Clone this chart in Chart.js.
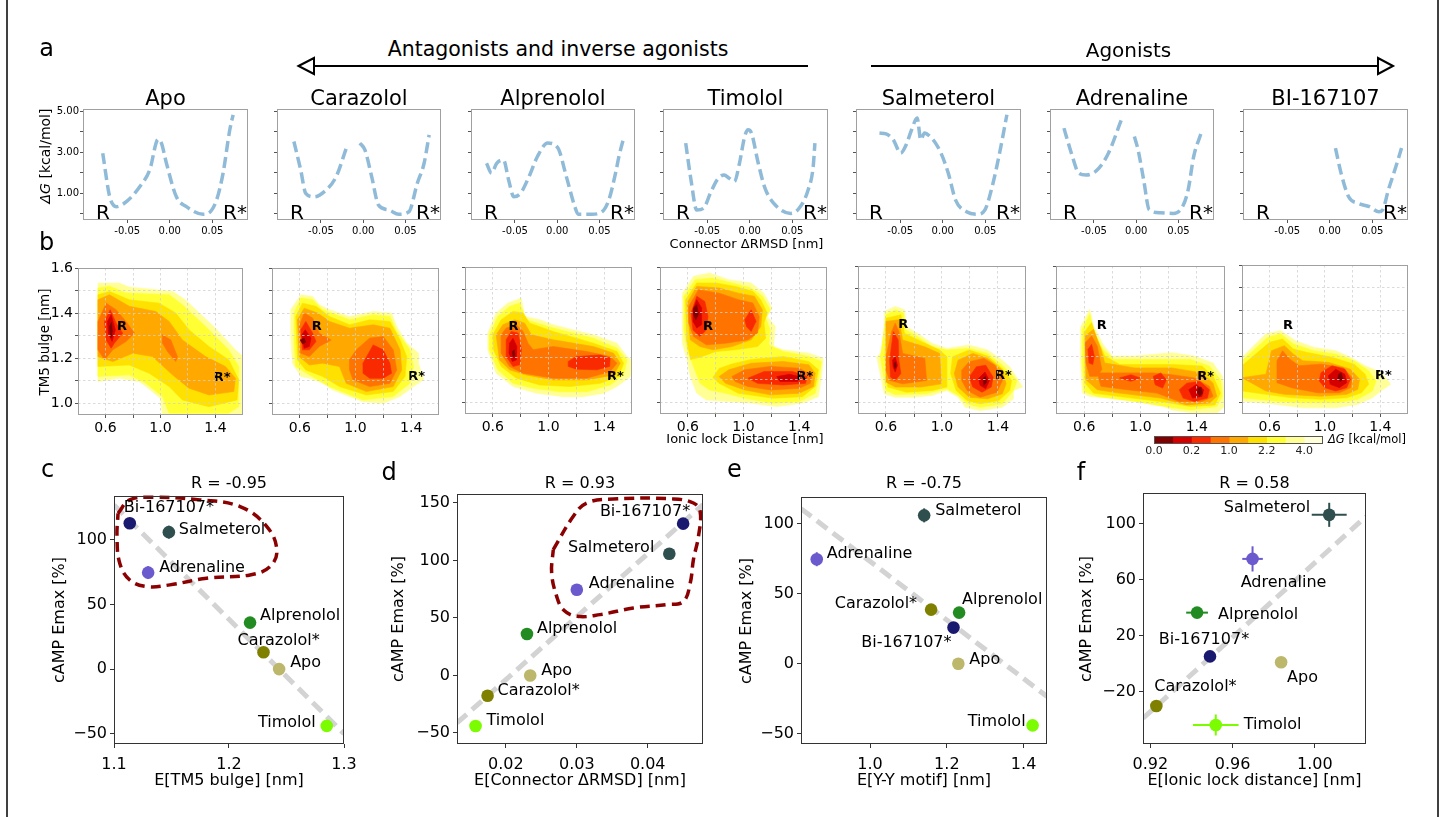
<!DOCTYPE html>
<html><head><meta charset="utf-8">
<script src="https://cdn.jsdelivr.net/npm/chart.js@4.4.1/dist/chart.umd.min.js"></script>
<style>
html,body{margin:0;padding:0;background:#fff;}
body{width:1445px;height:817px;position:relative;overflow:hidden;font-family:"DejaVu Sans",sans-serif;}
.t{position:absolute;white-space:nowrap;color:#000;line-height:1;}
canvas{position:absolute;}
</style></head><body>
<script>
// ---------------- DATA ----------------
const ligands = ['Apo','Carazolol','Alprenolol','Timolol','Salmeterol','Adrenaline','BI-167107'];
// row a : free energy profiles along Connector dRMSD
const apoX = [-0.0788,-0.0706,-0.0627,-0.051,-0.0353,-0.0235,-0.0137,-0.0098,-0.0039,0.0078,0.0196,0.0392,0.045,0.055,0.0627,0.0706,0.0745];
const apoY = [2.95,0.83,0.35,0.59,1.32,2.14,3.62,3.44,2.46,0.83,0.35,-0.02,0.02,0.67,1.98,4.09,4.82];
const carX = [-0.082,-0.074,-0.068,-0.058,-0.046,-0.032,-0.02,-0.012,-0.004,0.002,0.01,0.018,0.03,0.042,0.054,0.064,0.072,0.078];
const carY = [3.52,2.14,1.0,0.83,1.08,1.81,3.2,null,3.44,3.11,1.81,0.43,0.19,-0.02,0.1,1.49,2.46,3.84];
const alpX = [-0.0836,-0.0776,-0.0716,-0.0635,-0.0575,-0.0514,-0.0434,-0.0334,-0.0234,-0.0113,0.0008,0.0108,0.0208,0.0248,0.041,0.053,0.061,0.069,0.073,0.079];
const alpY = [2.46,1.98,2.46,2.62,1.65,0.83,1.0,1.81,2.79,3.44,3.2,1.81,0.35,-0.02,-0.02,0.1,0.67,1.98,2.79,3.76];
const timX = [-0.0753,-0.0685,-0.0625,-0.0544,-0.0463,-0.0383,-0.0302,-0.0242,-0.0181,-0.0121,-0.006,-0.002,0.002,0.01,0.018,0.03,0.048,0.058,0.0686,0.0746,0.0766];
const timY = [3.44,1.49,0.19,0.27,1.0,1.65,1.89,1.73,1.57,2.46,3.76,4.09,3.93,2.46,1.24,0.43,0.02,0.27,1.16,2.3,3.44];
const salX = [-0.0744,-0.0667,-0.0581,-0.0495,-0.043,-0.0366,-0.0301,-0.0258,-0.0215,-0.015,-0.0085,-0.002,0.0065,0.0151,0.028,0.041,0.0496,0.0581,0.0668,0.0754];
const salY = [3.93,3.89,3.6,2.95,3.36,4.09,4.66,3.6,3.93,3.76,3.44,2.95,1.98,0.67,0.1,-0.02,0.19,1.32,2.95,4.82];
const adrX = [-0.0855,-0.0767,-0.068,-0.0592,-0.046,-0.0329,-0.0175,-0.01,-0.0022,0.0022,0.0088,0.0154,0.0285,0.0439,0.0548,0.0614,0.068,0.0768];
const adrY = [4.17,2.95,1.98,1.89,2.14,2.95,4.58,null,3.76,3.11,1.65,0.19,0.05,0.02,0.35,1.16,2.79,3.93];
const biX = [0.0067,0.0133,0.0222,0.0333,0.0467,0.0577,0.0622,0.0689,0.0778,0.0844];
const biY = [3.2,1.98,0.83,0.51,0.35,0.1,0.19,1.16,2.3,3.2];
const aXTicks = [-0.05,0,0.05];
const aYTicks = [0,1,2,3,4,5];
const aYLabelled = [1,3,5];

// row b : contour levels [colour level, polygon of (ionic lock, TM5 bulge)]
const cbColors = ['#7f0000','#d40000','#fa2a00','#ff7300','#ffa800','#ffe100','#ffff33','#ffff96','#ffffd9'];
const cbTickLabels = ['0.0','0.2','1.0','2.2','4.0'];
const contApo = [
 [7,[[0.545,1.533],[0.70,1.533],[0.77,1.516],[1.09,1.496],[1.18,1.459],[1.40,1.333],[1.545,1.237],[1.60,1.207],[1.60,0.948],[1.014,0.948],[1.00,1.022],[0.894,1.074],[0.846,1.096],[0.70,1.111],[0.545,1.096]]],
 [6,[[0.545,1.511],[0.629,1.519],[0.749,1.489],[1.063,1.481],[1.159,1.437],[1.328,1.341],[1.496,1.237],[1.569,1.163],[1.569,0.985],[1.496,0.956],[1.063,0.956],[1.014,1.030],[0.894,1.089],[0.773,1.126],[0.545,1.119]]],
 [5,[[0.545,1.481],[0.629,1.496],[0.773,1.459],[0.990,1.444],[1.111,1.400],[1.207,1.326],[1.352,1.252],[1.496,1.193],[1.569,1.104],[1.557,1.015],[1.352,0.985],[1.159,1.015],[1.063,1.074],[0.918,1.133],[0.773,1.170],[0.545,1.163]]],
 [4,[[0.545,1.459],[0.629,1.481],[0.773,1.430],[0.966,1.407],[1.063,1.363],[1.159,1.281],[1.328,1.207],[1.472,1.163],[1.545,1.111],[1.533,1.052],[1.352,1.037],[1.207,1.067],[1.087,1.126],[0.942,1.207],[0.798,1.222],[0.653,1.185],[0.545,1.207]]],
 [3,[[0.545,1.363],[0.605,1.444],[0.677,1.415],[0.749,1.363],[0.810,1.311],[0.749,1.274],[0.653,1.237],[0.593,1.193],[0.545,1.237]]],
 [3,[[1.014,1.304],[1.075,1.281],[1.123,1.207],[1.111,1.185],[1.051,1.230],[1.014,1.267]]],
 [2,[[0.593,1.363],[0.634,1.415],[0.677,1.356],[0.725,1.311],[0.665,1.267],[0.641,1.244],[0.605,1.281]]],
 [1,[[0.614,1.363],[0.641,1.393],[0.672,1.326],[0.648,1.274],[0.619,1.311]]],
 [0,[[0.630,1.34],[0.643,1.36],[0.650,1.32],[0.640,1.29],[0.633,1.315]]]
];
const contCar = [
 [7,[[0.535,1.415],[0.607,1.481],[0.692,1.474],[0.740,1.437],[0.813,1.415],[0.957,1.385],[1.127,1.407],[1.259,1.400],[1.296,1.341],[1.368,1.267],[1.453,1.222],[1.453,1.178],[1.489,1.104],[1.416,1.074],[1.320,1.030],[1.199,1.0],[1.054,1.007],[0.957,1.030],[0.837,1.059],[0.764,1.089],[0.668,1.111],[0.607,1.119],[0.547,1.178],[0.535,1.296]]],
 [6,[[0.559,1.400],[0.607,1.467],[0.692,1.459],[0.764,1.415],[0.957,1.370],[1.127,1.393],[1.247,1.385],[1.296,1.319],[1.392,1.237],[1.416,1.163],[1.392,1.089],[1.271,1.030],[1.054,1.015],[0.933,1.044],[0.813,1.074],[0.668,1.126],[0.571,1.163],[0.559,1.267]]],
 [5,[[0.571,1.385],[0.619,1.444],[0.716,1.430],[0.813,1.385],[0.957,1.348],[1.102,1.370],[1.247,1.363],[1.320,1.281],[1.368,1.207],[1.356,1.119],[1.271,1.052],[1.078,1.037],[0.885,1.074],[0.764,1.119],[0.643,1.148],[0.583,1.193]]],
 [4,[[0.583,1.370],[0.631,1.422],[0.728,1.400],[0.813,1.363],[0.957,1.333],[1.127,1.348],[1.247,1.333],[1.320,1.237],[1.332,1.148],[1.271,1.074],[1.078,1.052],[0.933,1.089],[0.885,1.163],[0.764,1.178],[0.668,1.170],[0.595,1.207]]],
 [3,[[0.595,1.341],[0.631,1.400],[0.692,1.378],[0.740,1.311],[0.825,1.281],[0.740,1.252],[0.668,1.207],[0.607,1.222]]],
 [3,[[0.957,1.193],[1.006,1.237],[1.102,1.289],[1.199,1.296],[1.271,1.237],[1.296,1.148],[1.247,1.089],[1.102,1.074],[0.982,1.104],[0.957,1.148]]],
 [2,[[0.607,1.326],[0.643,1.363],[0.692,1.311],[0.716,1.274],[0.668,1.237],[0.619,1.237]]],
 [2,[[1.054,1.178],[1.127,1.259],[1.199,1.237],[1.247,1.178],[1.259,1.133],[1.199,1.111],[1.102,1.111],[1.054,1.133]]],
 [1,[[0.614,1.304],[0.639,1.326],[0.680,1.289],[0.668,1.252],[0.631,1.244]]],
 [0,[[0.602,1.281],[0.631,1.289],[0.643,1.270],[0.619,1.264]]]
];
const contAlp = [
 [7,[[0.564,1.307],[0.624,1.396],[0.708,1.440],[0.805,1.462],[0.829,1.381],[0.937,1.366],[1.034,1.344],[1.178,1.321],[1.323,1.299],[1.492,1.262],[1.564,1.203],[1.6,1.188],[1.588,1.114],[1.492,1.070],[1.395,1.040],[1.251,1.025],[1.106,1.025],[0.913,1.040],[0.745,1.070],[0.624,1.129],[0.564,1.233]]],
 [6,[[0.576,1.299],[0.636,1.381],[0.720,1.425],[0.793,1.440],[0.841,1.366],[1.034,1.329],[1.323,1.284],[1.492,1.240],[1.564,1.188],[1.540,1.121],[1.443,1.077],[1.275,1.047],[1.082,1.047],[0.889,1.062],[0.745,1.084],[0.636,1.144],[0.576,1.233]]],
 [5,[[0.600,1.299],[0.660,1.366],[0.745,1.403],[0.817,1.396],[0.865,1.351],[1.034,1.314],[1.323,1.262],[1.492,1.225],[1.540,1.173],[1.504,1.114],[1.371,1.084],[1.154,1.070],[0.937,1.077],[0.769,1.107],[0.660,1.159],[0.605,1.233]]],
 [4,[[0.624,1.299],[0.672,1.344],[0.757,1.366],[0.829,1.351],[0.877,1.299],[1.034,1.277],[1.323,1.247],[1.467,1.218],[1.516,1.173],[1.467,1.121],[1.275,1.099],[1.034,1.099],[0.841,1.121],[0.720,1.144],[0.648,1.188]]],
 [3,[[0.660,1.299],[0.696,1.329],[0.769,1.344],[0.817,1.314],[0.853,1.262],[0.889,1.233],[1.034,1.247],[1.275,1.225],[1.443,1.203],[1.492,1.173],[1.443,1.136],[1.275,1.107],[1.034,1.107],[0.817,1.129],[0.720,1.159],[0.660,1.218]]],
 [2,[[0.696,1.277],[0.733,1.314],[0.781,1.307],[0.805,1.233],[0.793,1.166],[0.745,1.159],[0.696,1.203]]],
 [2,[[1.142,1.181],[1.202,1.203],[1.371,1.210],[1.443,1.196],[1.439,1.159],[1.347,1.144],[1.202,1.147],[1.142,1.159]]],
 [1,[[0.720,1.262],[0.745,1.284],[0.773,1.247],[0.769,1.188],[0.740,1.181],[0.716,1.218]]],
 [0,[[0.740,1.225],[0.754,1.233],[0.759,1.206],[0.745,1.203]]]
];
const contTim = [
 [7,[[0.561,1.484],[0.641,1.559],[0.756,1.573],[0.894,1.544],[1.055,1.529],[1.147,1.484],[1.205,1.418],[1.170,1.381],[1.228,1.336],[1.216,1.247],[1.285,1.233],[1.469,1.218],[1.572,1.196],[1.561,1.114],[1.538,1.025],[1.423,0.996],[1.239,0.981],[1.055,0.996],[0.894,1.003],[0.733,1.010],[0.664,1.040],[0.618,1.114],[0.595,1.188],[0.561,1.262]]],
 [6,[[0.572,1.470],[0.653,1.544],[0.779,1.551],[0.917,1.529],[1.055,1.507],[1.136,1.470],[1.193,1.410],[1.159,1.373],[1.193,1.321],[1.182,1.255],[1.285,1.225],[1.469,1.203],[1.561,1.181],[1.538,1.099],[1.515,1.040],[1.400,1.003],[1.216,0.996],[1.009,1.018],[0.871,1.040],[0.756,1.055],[0.687,1.084],[0.641,1.159],[0.595,1.233],[0.572,1.321]]],
 [5,[[0.584,1.455],[0.664,1.529],[0.802,1.529],[0.940,1.514],[1.067,1.492],[1.124,1.455],[1.170,1.396],[1.147,1.351],[1.159,1.284],[1.101,1.247],[0.940,1.233],[0.802,1.225],[0.687,1.200],[0.620,1.190],[0.591,1.277]]],
 [5,[[0.825,1.150],[0.917,1.170],[1.055,1.190],[1.285,1.203],[1.469,1.181],[1.538,1.144],[1.515,1.070],[1.423,1.025],[1.216,1.018],[0.963,1.040],[0.825,1.084],[0.780,1.110]]],
 [4,[[0.595,1.440],[0.664,1.514],[0.825,1.507],[0.963,1.484],[1.078,1.470],[1.136,1.410],[1.124,1.336],[1.055,1.277],[0.917,1.247],[0.779,1.233],[0.687,1.247],[0.618,1.277]]],
 [4,[[0.825,1.114],[0.894,1.144],[1.055,1.173],[1.285,1.181],[1.469,1.166],[1.515,1.129],[1.503,1.070],[1.400,1.040],[1.193,1.033],[1.009,1.055],[0.871,1.084]]],
 [3,[[0.607,1.425],[0.676,1.499],[0.825,1.484],[0.963,1.455],[1.067,1.440],[1.113,1.381],[1.101,1.307],[1.032,1.277],[0.871,1.262],[0.733,1.255],[0.641,1.292],[0.607,1.351]]],
 [3,[[0.917,1.114],[1.009,1.144],[1.193,1.159],[1.400,1.151],[1.492,1.121],[1.480,1.084],[1.400,1.062],[1.193,1.055],[1.032,1.070],[0.940,1.092]]],
 [2,[[0.623,1.396],[0.664,1.470],[0.722,1.447],[0.745,1.381],[0.733,1.321],[0.687,1.292],[0.637,1.321]]],
 [2,[[1.009,1.366],[1.055,1.410],[1.090,1.359],[1.055,1.314],[1.021,1.336]]],
 [2,[[1.032,1.107],[1.147,1.136],[1.354,1.136],[1.457,1.114],[1.446,1.084],[1.285,1.077],[1.101,1.084]]],
 [1,[[0.637,1.410],[0.664,1.455],[0.699,1.418],[0.699,1.344],[0.664,1.329],[0.637,1.359]]],
 [1,[[1.239,1.114],[1.331,1.124],[1.400,1.114],[1.389,1.092],[1.262,1.092]]],
 [0,[[0.641,1.418],[0.664,1.433],[0.676,1.388],[0.657,1.366],[0.641,1.388]]]
];
const contSal = [
 [7,[[0.587,1.400],[0.666,1.422],[0.732,1.407],[0.745,1.333],[0.824,1.304],[0.930,1.259],[1.035,1.237],[1.194,1.252],[1.326,1.230],[1.431,1.185],[1.484,1.156],[1.576,1.067],[1.510,1.052],[1.510,1.015],[1.431,0.978],[1.273,0.963],[1.167,0.978],[1.115,1.022],[1.035,1.052],[0.930,1.030],[0.798,1.022],[0.666,1.022],[0.587,1.037],[0.534,1.200],[0.587,1.230]]],
 [6,[[0.600,1.385],[0.666,1.407],[0.724,1.393],[0.740,1.319],[0.824,1.289],[0.930,1.244],[1.035,1.230],[1.194,1.237],[1.326,1.215],[1.431,1.163],[1.537,1.096],[1.510,1.052],[1.431,0.993],[1.273,0.978],[1.180,0.993],[1.115,1.030],[1.035,1.059],[0.877,1.037],[0.666,1.034],[0.600,1.052],[0.560,1.200]]],
 [5,[[0.600,1.370],[0.706,1.385],[0.732,1.304],[0.851,1.267],[0.983,1.230],[1.035,1.200],[1.035,1.067],[0.930,1.052],[0.745,1.044],[0.613,1.067],[0.592,1.200]]],
 [5,[[1.075,1.200],[1.194,1.230],[1.326,1.203],[1.431,1.148],[1.497,1.096],[1.484,1.052],[1.405,1.007],[1.273,0.993],[1.180,1.007],[1.101,1.052],[1.062,1.126]]],
 [4,[[0.600,1.356],[0.692,1.363],[0.719,1.274],[0.877,1.244],[0.983,1.215],[0.996,1.081],[0.851,1.067],[0.666,1.067],[0.600,1.089]]],
 [4,[[1.115,1.185],[1.220,1.215],[1.326,1.193],[1.431,1.141],[1.458,1.081],[1.431,1.037],[1.326,1.015],[1.194,1.022],[1.115,1.067],[1.088,1.126]]],
 [3,[[0.600,1.200],[0.640,1.311],[0.666,1.348],[0.692,1.311],[0.719,1.215],[0.877,1.193],[0.890,1.096],[0.719,1.081],[0.626,1.096],[0.600,1.141]]],
 [3,[[1.141,1.141],[1.194,1.178],[1.299,1.193],[1.378,1.163],[1.431,1.096],[1.392,1.044],[1.273,1.022],[1.180,1.052],[1.141,1.096]]],
 [2,[[0.626,1.185],[0.653,1.311],[0.687,1.274],[0.692,1.185],[0.706,1.126],[0.666,1.096],[0.632,1.111]]],
 [2,[[1.194,1.111],[1.246,1.156],[1.312,1.163],[1.365,1.111],[1.352,1.067],[1.286,1.044],[1.220,1.067]]],
 [1,[[0.647,1.185],[0.666,1.200],[0.682,1.163],[0.666,1.133],[0.650,1.156]]],
 [1,[[1.260,1.104],[1.307,1.133],[1.339,1.096],[1.312,1.059],[1.273,1.074]]],
 [0,[[0.658,1.170],[0.669,1.178],[0.674,1.156],[0.663,1.148]]],
 [0,[[1.294,1.104],[1.310,1.114],[1.320,1.089],[1.299,1.074]]]
];
const contAdr = [
 [7,[[0.573,1.329],[0.640,1.410],[0.666,1.336],[0.733,1.255],[0.799,1.203],[0.958,1.203],[1.223,1.218],[1.382,1.203],[1.515,1.173],[1.581,1.114],[1.595,1.055],[1.595,0.981],[1.542,0.951],[1.382,0.951],[1.223,0.966],[1.117,0.996],[0.958,1.010],[0.799,1.018],[0.640,1.025],[0.587,1.040],[0.573,1.188]]],
 [6,[[0.587,1.321],[0.640,1.388],[0.666,1.314],[0.733,1.233],[0.812,1.188],[1.091,1.188],[1.356,1.188],[1.489,1.159],[1.568,1.099],[1.581,1.025],[1.542,0.981],[1.356,0.966],[1.170,0.981],[0.958,1.003],[0.693,1.025],[0.600,1.047],[0.587,1.188]]],
 [5,[[0.600,1.307],[0.653,1.351],[0.693,1.277],[0.746,1.203],[0.852,1.166],[1.223,1.166],[1.436,1.159],[1.515,1.114],[1.568,1.040],[1.528,0.988],[1.356,0.981],[1.144,1.003],[0.852,1.025],[0.666,1.040],[0.608,1.084]]],
 [4,[[0.608,1.292],[0.666,1.321],[0.719,1.233],[0.746,1.173],[0.958,1.151],[1.223,1.151],[1.436,1.129],[1.515,1.084],[1.542,1.025],[1.489,0.996],[1.329,0.988],[1.144,1.018],[0.852,1.040],[0.693,1.055],[0.613,1.099]]],
 [3,[[0.608,1.262],[0.653,1.292],[0.693,1.247],[0.725,1.144],[0.693,1.114],[0.640,1.114],[0.613,1.173]]],
 [3,[[0.693,1.129],[0.852,1.129],[1.091,1.129],[1.223,1.121],[1.382,1.107],[1.489,1.070],[1.515,1.025],[1.436,1.003],[1.276,1.003],[1.117,1.040],[0.905,1.055],[0.719,1.070]]],
 [2,[[0.627,1.233],[0.653,1.255],[0.672,1.203],[0.661,1.166],[0.634,1.173]]],
 [2,[[0.852,1.107],[0.932,1.121],[0.998,1.107],[0.932,1.092]]],
 [2,[[1.091,1.114],[1.144,1.129],[1.184,1.099],[1.157,1.062],[1.104,1.077]]],
 [2,[[1.276,1.055],[1.329,1.084],[1.422,1.092],[1.489,1.055],[1.475,1.018],[1.382,1.003],[1.303,1.018]]],
 [1,[[1.343,1.055],[1.396,1.077],[1.449,1.055],[1.436,1.025],[1.369,1.018]]],
 [0,[[1.409,1.062],[1.430,1.067],[1.441,1.040],[1.420,1.025],[1.404,1.043]]]
];
const contBI = [
 [7,[[0.40,1.196],[0.573,1.299],[0.680,1.313],[0.786,1.269],[0.918,1.240],[1.077,1.225],[1.184,1.196],[1.290,1.159],[1.409,1.129],[1.475,1.078],[1.422,1.056],[1.343,1.019],[1.237,0.990],[1.077,0.975],[0.839,0.975],[0.653,0.990],[0.40,1.004]]],
 [6,[[0.40,1.181],[0.587,1.284],[0.680,1.299],[0.772,1.254],[0.918,1.225],[1.077,1.210],[1.210,1.181],[1.316,1.137],[1.369,1.093],[1.343,1.049],[1.237,1.012],[1.077,0.997],[0.839,0.997],[0.653,1.004],[0.40,1.019]]],
 [5,[[0.40,1.159],[0.600,1.262],[0.693,1.276],[0.772,1.232],[0.865,1.218],[1.051,1.196],[1.210,1.166],[1.290,1.122],[1.316,1.078],[1.263,1.041],[1.157,1.019],[0.971,1.012],[0.759,1.019],[0.573,1.034],[0.40,1.049]]],
 [4,[[0.40,1.107],[0.573,1.122],[0.613,1.225],[0.706,1.247],[0.772,1.210],[0.839,1.181],[1.024,1.174],[1.184,1.144],[1.250,1.100],[1.237,1.056],[1.157,1.034],[0.971,1.026],[0.706,1.034],[0.573,1.049]]],
 [3,[[0.653,1.181],[0.693,1.225],[0.746,1.188],[0.812,1.159],[0.971,1.166],[1.131,1.151],[1.197,1.107],[1.184,1.063],[1.104,1.041],[0.945,1.041],[0.759,1.063],[0.653,1.085]]],
 [2,[[0.971,1.129],[1.051,1.159],[1.144,1.144],[1.184,1.100],[1.157,1.063],[1.077,1.049],[0.998,1.063],[0.958,1.093]]],
 [1,[[1.024,1.115],[1.077,1.144],[1.144,1.122],[1.157,1.085],[1.104,1.063],[1.038,1.078]]],
 [0,[[1.098,1.122],[1.117,1.129],[1.131,1.100],[1.109,1.090],[1.093,1.104]]]
];
const bXTicks = [0.6,0.8,1.0,1.2,1.4];
const bXLabelled = [0.6,1.0,1.4];
const bYTicks = [1.0,1.1,1.2,1.3,1.4,1.5,1.6];
const bYLabelled = [1.0,1.2,1.4,1.6];

// rows c-f : cAMP Emax vs expectation values
const names = ['Apo','Carazolol*','Alprenolol','Timolol','Salmeterol','Adrenaline','Bi-167107*'];
const ptColors = ['#bdb76b','#808000','#228b22','#7cfc00','#2f4f4f','#6a5acd','#191970'];
const tm5X = [1.2436,1.230,1.2183,1.285,1.1477,1.1297,1.1137];
const tm5Y = [0,13,36,-44,106,74.7,112.9];
const tm5Yerr = [0,0,0,0,5,5,0];
const conX = [0.02343,0.01741,0.02297,0.01572,0.04305,0.030,0.045];
const conY = [0,-17.6,36,-44,105.8,74.5,132];
const yyX = [1.230,1.159,1.232,1.4235,1.1409,0.861,1.2174];
const yyY = [0,38.6,36.5,-44,105.9,74.6,25.8];
const yyYerr = [0,0,0,3,5,5,0];
const ilX = [0.9836,0.9229,0.9427,0.9518,1.007,0.9697,0.949];
const ilY = [1,-30.2,36.5,-43.8,106.4,74.9,5.2];
const ilXerr = [0.002,0,0.0053,0.0111,0.0085,0.005,0.001];
const ilYerr = [0,0,3,7.5,8.6,9,0];
const fitTm5 = [[1.1,127],[1.3,-50]];
const fitCon = [[0.0131,-41.3],[0.0478,148.5]];
const fitYY = [[0.82,110.7],[1.461,-23.4]];
const fitIL = [[0.9164,-39],[1.0249,105.2]];
const loopTm5 = [[1.1035,120.6],[1.1137,131],[1.134,133],[1.1747,131],[1.2096,125.8],[1.2329,110.3],[1.2416,92.3],[1.2357,79.4],[1.2183,72.9],[1.1806,70.4],[1.1486,65.2],[1.1282,63.9],[1.1137,69],[1.105,82],[1.1026,102.6],[1.1035,120.6]];
const loopCon = [[0.02668,109.4],[0.02951,138.4],[0.0314,150],[0.03516,153.5],[0.04363,153.5],[0.04645,150],[0.0474,142.7],[0.04716,121],[0.04645,100.7],[0.046,80.4],[0.04504,64.4],[0.0427,61.6],[0.03798,58.7],[0.03328,52.9],[0.03,51.4],[0.0281,57.2],[0.02716,68.8],[0.02645,89.1],[0.02668,109.4]];
const corrR = ['R = -0.95','R = 0.93','R = -0.75','R = 0.58'];

// ---------------- LAYOUT (pixel positions, styles) ----------------
const aRects = [[83,109,248,220],[277,109,441,220],[471,109,635,220],[663,109,828,220],[856,109,1021,220],[1050,109,1214,220],[1243,109,1408,220]];
const bRects = [[78,268,243,415],[272,268,439,415],[465,267,632,414],[660,267,827,414],[858,266,1026,414],[1056,266,1225,414],[1242,265,1408,414]];
const bLblPos = [
 [[0.72,1.338],[1.448,1.114]],[[0.721,1.341],[1.44,1.119]],[[0.749,1.336],[1.48,1.114]],[[0.745,1.336],[1.441,1.114]],
 [[0.724,1.341],[1.439,1.116]],[[0.725,1.336],[1.462,1.114]],[[0.733,1.335],[1.422,1.115]]];
const sRects = [[114,496,344,744],[457,494,703,744],[801,497,1047,744],[1143,493,1366,744]];
const lblOffC = [[11,-6,'left'],[-26,-11,'left'],[10,-7,'left'],[-11,-3,'right'],[10,-2,'left'],[11,-5,'left'],[-6,-15,'left']];
const lblOffD = [[11,-5,'left'],[10,-5,'left'],[10,-5,'left'],[11,-5,'left'],[-15,-6,'right'],[12,-6,'left'],[7,-12,'right']];
const lblOffE = [[11,-4,'left'],[-14,-6,'right'],[3,-13,'left'],[-7,-4,'right'],[11,-5,'left'],[10,-5,'left'],[-2,15,'right']];
const lblOffF = [[6,16,'left'],[-2,-19,'left'],[21,2,'left'],[28,0,'left'],[-19,-7,'right'],[31,24,'center'],[-6,-17,'center']];

// ---------------- PLUGINS ----------------
Chart.defaults.font.family = "'DejaVu Sans', sans-serif";
Chart.defaults.color = '#000';

const framePlugin = { id:'frame', afterDraw(chart, a, o){ if(!o || !o.color) return; const c=chart.chartArea, ctx=chart.ctx; ctx.save(); ctx.strokeStyle=o.color; ctx.lineWidth=1; ctx.setLineDash([]); ctx.strokeRect(c.left+0.5,c.top+0.5,c.right-c.left-1,c.bottom-c.top-1); ctx.restore(); } };
const contourPlugin = { id:'contour', beforeDatasetsDraw(chart){ const ctx=chart.ctx, c=chart.chartArea; let any=false;
  chart.data.datasets.forEach(d=>{ if(d.level!==undefined) any=true; }); if(!any) return;
  ctx.save(); ctx.beginPath(); ctx.rect(c.left,c.top,c.right-c.left,c.bottom-c.top); ctx.clip();
  chart.data.datasets.forEach((d,i)=>{ if(d.level===undefined) return; const pts=chart.getDatasetMeta(i).data; ctx.beginPath();
    pts.forEach((p,j)=>{ if(j) ctx.lineTo(p.x,p.y); else ctx.moveTo(p.x,p.y); }); ctx.closePath();
    ctx.fillStyle=cbColors[d.level]; ctx.strokeStyle=cbColors[d.level]; ctx.lineWidth=0.6; ctx.fill(); ctx.stroke(); });
  ctx.restore(); } };
const errPlugin = { id:'errbars', beforeDatasetDraw(chart, args){ const d=chart.data.datasets[args.index]; if(!d.errY && !d.errX) return;
  const ctx=chart.ctx, xs=chart.scales.x, ys=chart.scales.y; ctx.save(); ctx.lineWidth=2;
  d.data.forEach((p,j)=>{ ctx.strokeStyle=d.pointBackgroundColor[j];
    const ey=d.errY?d.errY[j]:0, ex=d.errX?d.errX[j]:0; const px=xs.getPixelForValue(p.x), py=ys.getPixelForValue(p.y);
    if(ey){ ctx.beginPath(); ctx.moveTo(px,ys.getPixelForValue(p.y-ey)); ctx.lineTo(px,ys.getPixelForValue(p.y+ey)); ctx.stroke(); }
    if(ex){ ctx.beginPath(); ctx.moveTo(xs.getPixelForValue(p.x-ex),py); ctx.lineTo(xs.getPixelForValue(p.x+ex),py); ctx.stroke(); } });
  ctx.restore(); } };
const labelPlugin = { id:'ptlabels', afterDatasetsDraw(chart){ const ctx=chart.ctx;
  chart.data.datasets.forEach((d,i)=>{ if(!d.ptLabels) return; const pts=chart.getDatasetMeta(i).data; ctx.save(); ctx.font="16px 'DejaVu Sans'"; ctx.fillStyle='#000'; ctx.textBaseline='middle';
    pts.forEach((p,j)=>{ const o=d.lblOff[j]; ctx.textAlign=o[2]; ctx.fillText(d.ptLabels[j], p.x+o[0], p.y+o[1]); }); ctx.restore(); }); } };
const rLabelPlugin = { id:'rlabels', afterDatasetsDraw(chart, a, o){ if(!o || !o.on) return; const ctx=chart.ctx, c=chart.chartArea; ctx.save(); ctx.font="20px 'DejaVu Sans'"; ctx.fillStyle='#000'; ctx.textAlign='center'; ctx.textBaseline='alphabetic';
  ctx.fillText('R', c.left+20, c.bottom-1); ctx.fillText('R*', c.right-13, c.bottom-1); ctx.restore(); } };
const bLabelPlugin = { id:'blabels', afterDatasetsDraw(chart, a, o){ if(!o || !o.pts) return; const ctx=chart.ctx; ctx.save(); ctx.font="bold 13px 'DejaVu Sans'"; ctx.fillStyle='#000'; ctx.textAlign='center'; ctx.textBaseline='middle';
  const t=['R','R*']; o.pts.forEach((p,k)=>ctx.fillText(t[k], chart.scales.x.getPixelForValue(p[0]), chart.scales.y.getPixelForValue(p[1]))); ctx.restore(); } };
Chart.register(framePlugin, contourPlugin, errPlugin, labelPlugin, rLabelPlugin, bLabelPlugin);

// ---------------- HELPERS ----------------
function mk(rect, pad, cfg){
  const [L,T,R,B] = rect; const w=R-L+pad.l+pad.r, h=B-T+pad.t+pad.b;
  const c=document.createElement('canvas'); c.width=w; c.height=h;
  c.style.left=(L-pad.l)+'px'; c.style.top=(T-pad.t)+'px'; c.style.width=w+'px'; c.style.height=h+'px';
  document.body.appendChild(c);
  const o=cfg.options; o.responsive=false; o.animation=false; o.devicePixelRatio=1; o.events=[];
  o.layout={padding:{left:0,top:pad.t,right:pad.r,bottom:0}};
  o.plugins=Object.assign({legend:{display:false},tooltip:{enabled:false}}, o.plugins||{});
  return new Chart(c, cfg);
}
function lin(axis, pad, s){
  return { type:'linear', position: axis==='x'?'bottom':'left', min:s.min, max:s.max,
    afterBuildTicks: sc => { sc.ticks = s.ticks.map(v=>({value:v})); },
    afterFit: sc => { if(axis==='x'){ sc.height=pad.b; sc.paddingLeft=0; sc.paddingRight=0; } else { sc.width=pad.l; sc.paddingTop=0; sc.paddingBottom=0; } },
    ticks: { callback: v => s.fmt(v), font:{size:s.font}, color:s.color||'#000', padding:s.tpad, maxRotation:0, minRotation:0, autoSkip:false },
    grid: { drawOnChartArea: !!s.grid, color: s.gridColor||'#d0d0d0', lineWidth: s.grid?0.8:1, drawTicks:true, tickLength:s.tl, tickColor:s.tc||'#333', tickWidth:1, tickBorderDash:[], z:1 },
    border: { display:false, dash: s.grid?[2.5,2.5]:[] } };
}
const has = (arr, v) => arr.some(t => Math.abs(t-v) < 1e-9);
const minus = v => (v<0?'\u2212':'') + Math.abs(v);
function txt(html, x, yBase, size, opt={}){
  const d=document.createElement('div'); d.className='t'; d.innerHTML=html; d.style.fontSize=size+'px';
  if(opt.weight) d.style.fontWeight=opt.weight;
  if(opt.rot){ d.style.left=(x-0.346*size)+'px'; d.style.top=yBase+'px'; d.style.transform='translate(-50%,-50%) rotate(-90deg)'; }
  else { d.style.top=(yBase-0.846*size)+'px'; const al=opt.align||'center';
    if(al==='center'){ d.style.left=x+'px'; d.style.transform='translateX(-50%)'; } else if(al==='left'){ d.style.left=x+'px'; } else { d.style.right=(1445-x)+'px'; } }
  document.body.appendChild(d);
}

// ---------------- ROW a ----------------
const aSeries = [[apoX,apoY],[carX,carY],[alpX,alpY],[timX,timY],[salX,salY],[adrX,adrY],[biX,biY]];
const aPad = {l:40,r:12,t:8,b:22};
aSeries.forEach(([xs,ys],i)=>{
  mk(aRects[i], aPad, { type:'line',
    data:{ datasets:[{ data: xs.map((x,j)=>({x, y: ys[j]})), borderColor:'#8fbbd9', borderWidth:3.5, borderDash:[11,5], pointRadius:0, cubicInterpolationMode:'monotone', spanGaps:false, fill:false }] },
    options:{ plugins:{frame:{color:'#a0a0a0'}, rlabels:{on:true}},
      scales:{ x: lin('x', aPad, {min:-0.102,max:0.092,ticks:aXTicks,fmt:v=>v.toFixed(2),font:10,tpad:2,tl:3,tc:'#555'}),
               y: lin('y', aPad, {min:-0.3,max:5.1,ticks:aYTicks,fmt:v=> (i===0 && has(aYLabelled,v)) ? v.toFixed(2) : '',font:10,tpad:1,tl:3,tc:'#555'}) } } });
  txt(ligands[i], (aRects[i][0]+aRects[i][2])/2, 106, 21);
});

// ---------------- ROW b ----------------
const bConts = [contApo,contCar,contAlp,contTim,contSal,contAdr,contBI];
const bPad = {l:40,r:14,t:10,b:24};
bConts.forEach((cont,i)=>{
  mk(bRects[i], bPad, { type:'line',
    data:{ datasets: cont.map(([lv,pts])=>({ level:lv, data: pts.map(p=>({x:p[0],y:p[1]})), showLine:false, pointRadius:0 })) },
    options:{ plugins:{frame:{color:'#a0a0a0'}, blabels:{pts:bLblPos[i]}},
      scales:{ x: lin('x', bPad, {min:0.4,max:1.6,ticks:bXTicks,fmt:v=> has(bXLabelled,v)? v.toFixed(1):'',font:14,tpad:2,tl:3,tc:'#555',grid:true}),
               y: lin('y', bPad, {min:0.948,max:1.6,ticks:bYTicks,fmt:v=> (i===0 && has(bYLabelled,v))? v.toFixed(1):'',font:14,tpad:2,tl:3,tc:'#555',grid:true}) } } });
});

// colour bar
const cbPad = {l:10,r:12,t:2,b:16};
mk([1154,436,1323,444], cbPad, { type:'bar',
  data:{ labels:['g'], datasets: cbColors.map((c,i)=>({ data:[[i,i+1]], backgroundColor:c, borderWidth:0, grouped:false, barPercentage:1, categoryPercentage:1 })) },
  options:{ indexAxis:'y', plugins:{frame:{color:'#555'}},
    scales:{ x: lin('x', cbPad, {min:0,max:9,ticks:[0,2,4,6,8],fmt:v=>cbTickLabels[v/2],font:11,tpad:1,tl:0,color:'#222'}),
             y: { type:'category', afterFit: sc=>{ sc.width=cbPad.l; sc.paddingTop=0; sc.paddingBottom=0; }, ticks:{display:false}, grid:{display:false}, border:{display:false} } } } });

// ---------------- ROWS c-f ----------------
const sDefs = [
  {x:tm5X,y:tm5Y,ex:null,ey:tm5Yerr,fit:fitTm5,loop:loopTm5,off:lblOffC,xr:[1.1,1.3],yr:[-58,134],xt:[1.1,1.2,1.3],xd:1,yt:[-50,0,50,100]},
  {x:conX,y:conY,ex:null,ey:null,fit:fitCon,loop:loopCon,off:lblOffD,xr:[0.0131,0.0478],yr:[-59.6,157.8],xt:[0.02,0.03,0.04],xd:2,yt:[-50,0,50,100,150]},
  {x:yyX,y:yyY,ex:null,ey:yyYerr,fit:fitYY,loop:null,off:lblOffE,xr:[0.82,1.461],yr:[-57.3,119],xt:[1.0,1.2,1.4],xd:1,yt:[-50,0,50,100]},
  {x:ilX,y:ilY,ex:ilXerr,ey:ilYerr,fit:fitIL,loop:null,off:lblOffF,xr:[0.9164,1.0249],yr:[-57.4,122],xt:[0.92,0.96,1.00],xd:2,yt:[-20,20,60,100]}
];
const sPad = {l:52,r:24,t:14,b:34};
sDefs.forEach((s,i)=>{
  const ds = [{ type:'scatter', data: s.x.map((x,j)=>({x, y:s.y[j]})), pointBackgroundColor: ptColors, pointBorderWidth:0, pointRadius:6.3, showLine:false,
               errX: s.ex, errY: s.ey, ptLabels: names, lblOff: s.off }];
  if(s.loop) ds.push({ type:'line', data: s.loop.map(p=>({x:p[0],y:p[1]})), borderColor:'#8b0000', borderWidth:3.5, borderDash:[10,6], tension:0.4, pointRadius:0, fill:false, clip:10 });
  ds.push({ type:'line', data: s.fit.map(p=>({x:p[0],y:p[1]})), borderColor:'#d3d3d3', borderWidth:5, borderDash:[13,7], pointRadius:0, fill:false });
  mk(sRects[i], sPad, { type:'scatter', data:{datasets:ds},
    options:{ plugins:{frame:{color:'#333'}},
      scales:{ x: lin('x', sPad, {min:s.xr[0],max:s.xr[1],ticks:s.xt,fmt:v=>v.toFixed(s.xd),font:16,tpad:7,tl:4}),
               y: lin('y', sPad, {min:s.yr[0],max:s.yr[1],ticks:s.yt,fmt:minus,font:16,tpad:3,tl:4}) } } });
  txt(corrR[i], (sRects[i][0]+sRects[i][2])/2, 488.5, 16);
});

// ---------------- TEXT ----------------
txt('a', 46.5, 56, 24); txt('b', 46.5, 250, 24);
txt('c', 47.5, 477, 24); txt('d', 389, 480, 24); txt('e', 734.5, 477, 24); txt('f', 1081, 480, 24);
txt('Antagonists and inverse agonists', 558, 56.5, 20.5);
txt('Agonists', 1128.5, 56.5, 20);
txt('<i>ΔG</i> [kcal/mol]', 49.5, 156, 14, {rot:true});
txt('Connector ΔRMSD [nm]', 746.5, 248, 13);
txt('TM5 bulge [nm]', 49.5, 342, 13.5, {rot:true});
txt('Ionic lock Distance [nm]', 745, 442.7, 13);
txt('<i>ΔG</i> [kcal/mol]', 1328, 444, 11.5, {align:'left'});
const xTitles = ['E[TM5 bulge] [nm]','E[Connector ΔRMSD] [nm]','E[Y-Y motif] [nm]','E[Ionic lock distance] [nm]'];
const yTitleX = [65, 404, 752, 1092];
sRects.forEach((r,i)=>{ txt(xTitles[i], (r[0]+r[2])/2, 785.5, 16); txt('cAMP Emax [%]', yTitleX[i], (r[1]+r[3])/2, 16, {rot:true}); });
</script>
<svg style="position:absolute;left:0;top:0;" width="1445" height="817">
<line x1="313" y1="66" x2="808" y2="66" stroke="#000" stroke-width="2"/>
<polygon points="298.5,66 314,58 314,74" fill="#fff" stroke="#000" stroke-width="2"/>
<line x1="871" y1="66" x2="1378" y2="66" stroke="#000" stroke-width="2"/>
<polygon points="1393,66 1378,58 1378,74" fill="#fff" stroke="#000" stroke-width="2"/>
<line x1="7" y1="0" x2="7" y2="817" stroke="#000" stroke-width="1.5"/>
<line x1="1438" y1="0" x2="1438" y2="817" stroke="#000" stroke-width="1.5"/>
</svg>
</body></html>
